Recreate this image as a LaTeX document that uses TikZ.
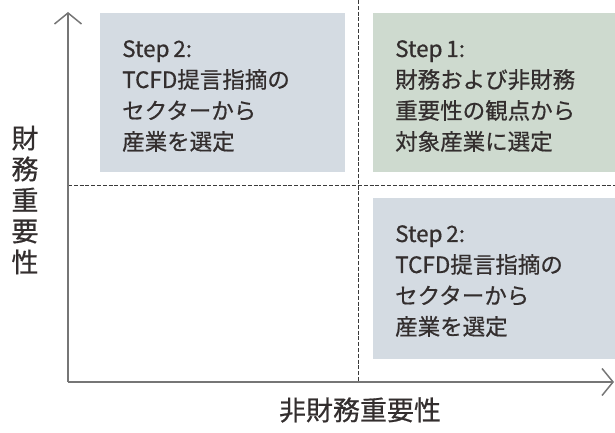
\documentclass[tikz,border=0pt]{standalone}
\usepackage{fontspec}
\newfontfamily\cjk[FakeBold=0.6]{Noto Sans CJK JP}
\usetikzlibrary{arrows.meta}
\definecolor{boxblue}{HTML}{D4DBE2}
\definecolor{boxgreen}{HTML}{CEDACF}
\definecolor{axisgray}{HTML}{767676}
\definecolor{txt}{HTML}{332E2E}
\definecolor{dashc}{HTML}{3A3A3A}
\begin{document}
\begin{tikzpicture}[x=1pt,y=-1pt,
  quad/.style={anchor=north west,inner sep=0pt,minimum width=#1,minimum height=159pt},
  quadtext/.style={anchor=north west,inner sep=0pt,align=left,text=txt,
    font=\cjk\fontsize{22.5}{31}\selectfont},
  axisline/.style={draw=axisgray,line width=2.4pt,
    -{Straight Barb[length=11pt,width=27pt,line width=1.5pt]}},
  divider/.style={draw=dashc,line width=1pt,dash pattern=on 4pt off 1.8pt},
  axlabel/.style={text=txt,font=\cjk\fontsize{27}{31}\selectfont,inner sep=0pt}]
\useasboundingbox (0,0) rectangle (615,433);
% dividers
\coordinate (hL) at (68,185);
\coordinate (hR) at (615,185);
\coordinate (vT) at (358,0);
\coordinate (vB) at (358,382);
\draw[divider] (hL) -- (hR);
\draw[divider] (vT) -- (vB);
% boxes
\node[quad=245pt,fill=boxblue] (tl) at (100,13) {};
\node[quad=242pt,fill=boxgreen] (tr) at (373,13) {};
\node[quad=242pt,fill=boxblue,minimum height=161pt] (br) at (373,198) {};
\node[quadtext] (tlt) at ([xshift=22pt,yshift=-27pt]tl.north west) {Step\,2:\\TCFD提言指摘の\\セクターから\\産業を選定};
\node[quadtext] (trt) at ([xshift=22pt,yshift=-27pt]tr.north west) {Step\,1:\\財務および非財務\\重要性の観点から\\対象産業に選定};
\node[quadtext] (brt) at ([xshift=22pt,yshift=-27pt]br.north west) {Step\,2:\\TCFD提言指摘の\\セクターから\\産業を選定};
% axes
\coordinate (O) at (68,382);
\coordinate (ytip) at (68,12);
\coordinate (xtip) at (614,382);
\draw[axisline] (O) -- (ytip);
\draw[axisline] (O) -- (xtip);
% labels
\node[axlabel,align=center] (ylab) at (25,200) {財\\務\\重\\要\\性};
\node[axlabel] (xlab) at (360,410) {非財務重要性};
\end{tikzpicture}
\end{document}
